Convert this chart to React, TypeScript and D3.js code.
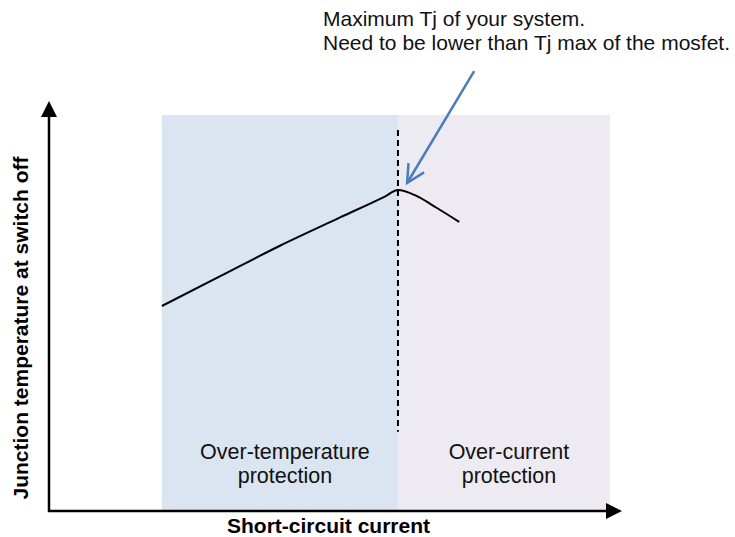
import React from "react";
import * as d3 from "d3";

// ---- data (abstract units: current 0..100, temperature 0..100) ----
const curveCurrent = [19.7, 29.8, 40.3, 50.8, 58.6, 60.9, 64.2, 67.7, 71.6];
const curveTemp = [50.0, 57.2, 64.7, 71.6, 76.7, 78.3, 76.8, 73.9, 70.5];

const regionNames = ["Over-temperature|protection", "Over-current|protection"];
const regionStart = [19.7, 60.9];
const regionEnd = [60.9, 97.9];
const regionTop = [96.6, 96.6];
const regionColors = ["#dbe5f1", "#edeaf2"];

const boundaryCurrent = 60.9;
const boundaryTempRange = [19.3, 92.9];

const annotationLines = [
  "Maximum Tj of your system.",
  "Need to be lower than Tj max of the mosfet.",
];
const annotationFrom = [74.2, 107.3];
const annotationTo = [62.5, 80.0];

const xAxisTitle = "Short-circuit current";
const yAxisTitle = "Junction temperature at switch off";

const W = 735;
const H = 537;
const FONT = "'Liberation Sans', Arial, Helvetica, sans-serif";

export default function App() {
  const x = d3.scaleLinear().domain([0, 100]).range([49, 622]);
  const y = d3.scaleLinear().domain([0, 100]).range([511, 101]);

  const pts: [number, number][] = curveCurrent.map((c, i) => [c, curveTemp[i]]);
  const line = d3
    .line<[number, number]>()
    .x((d) => x(d[0]))
    .y((d) => y(d[1]))
    .curve(d3.curveMonotoneX);

  // axes
  const x0 = x(0);
  const y0 = y(0);
  const xEnd = x(100);
  const yEnd = y(100);
  const ah = 16; // arrowhead length
  const aw = 8; // half width

  // annotation arrow
  const ax1 = x(annotationFrom[0]);
  const ay1 = y(annotationFrom[1]);
  const ax2 = x(annotationTo[0]);
  const ay2 = y(annotationTo[1]);
  const ang = Math.atan2(ay2 - ay1, ax2 - ax1);
  const armLen = 20;
  const half = (27 * Math.PI) / 180;
  const arm = (s: number) => [
    ax2 - armLen * Math.cos(ang + s * half),
    ay2 - armLen * Math.sin(ang + s * half),
  ];
  const a1 = arm(1);
  const a2 = arm(-1);

  return (
    <svg
      width={W}
      height={H}
      style={{ position: "absolute", left: 0, top: 0, background: "#fff" }}
      fontFamily={FONT}
    >
      {/* regions */}
      {regionNames.map((name, i) => {
        const rx = x(regionStart[i]);
        const rw = x(regionEnd[i]) - rx;
        const ry = y(regionTop[i]);
        const rh = y(0) - ry;
        const cx = rx + rw / 2 + 5;
        const parts = name.split("|");
        return (
          <g key={name}>
            <rect x={rx} y={ry} width={rw} height={rh} fill={regionColors[i]} />
            {parts.map((p, j) => (
              <text
                key={j}
                x={cx}
                y={459 + j * 24}
                textAnchor="middle"
                fontSize={21.5}
                fill="#111"
              >
                {p}
              </text>
            ))}
          </g>
        );
      })}

      {/* boundary dashed line */}
      <line
        x1={x(boundaryCurrent)}
        x2={x(boundaryCurrent)}
        y1={y(boundaryTempRange[1])}
        y2={y(boundaryTempRange[0])}
        stroke="#000"
        strokeWidth={2}
        strokeDasharray="6,4"
      />

      {/* curve */}
      <path d={line(pts) || ""} fill="none" stroke="#000" strokeWidth={2} />

      {/* axes */}
      <path
        d={`M${x0},${yEnd + ah - 1} L${x0},${y0} L${xEnd - ah + 1},${y0}`}
        fill="none"
        stroke="#000"
        strokeWidth={2.5}
      />
      <polygon
        points={`${x0},${yEnd} ${x0 - aw},${yEnd + ah} ${x0 + aw},${yEnd + ah}`}
        fill="#000"
      />
      <polygon
        points={`${xEnd},${y0} ${xEnd - ah},${y0 - aw} ${xEnd - ah},${y0 + aw}`}
        fill="#000"
      />

      {/* axis titles */}
      <text
        x={328.5}
        y={533}
        textAnchor="middle"
        fontSize={21}
        fontWeight="bold"
        fill="#000"
      >
        {xAxisTitle}
      </text>
      <text
        transform={`translate(28,328) rotate(-90)`}
        textAnchor="middle"
        fontSize={21}
        fontWeight="bold"
        fill="#000"
      >
        {yAxisTitle}
      </text>

      {/* annotation */}
      {annotationLines.map((t, i) => (
        <text key={i} x={323} y={26 + i * 24} fontSize={21} fill="#111">
          {t}
        </text>
      ))}
      <line
        x1={ax1}
        y1={ay1}
        x2={ax2}
        y2={ay2}
        stroke="#4a7ebb"
        strokeWidth={2.5}
      />
      <polyline
        points={`${a1[0]},${a1[1]} ${ax2},${ay2} ${a2[0]},${a2[1]}`}
        fill="none"
        stroke="#4a7ebb"
        strokeWidth={2.5}
        strokeLinejoin="miter"
      />
    </svg>
  );
}
